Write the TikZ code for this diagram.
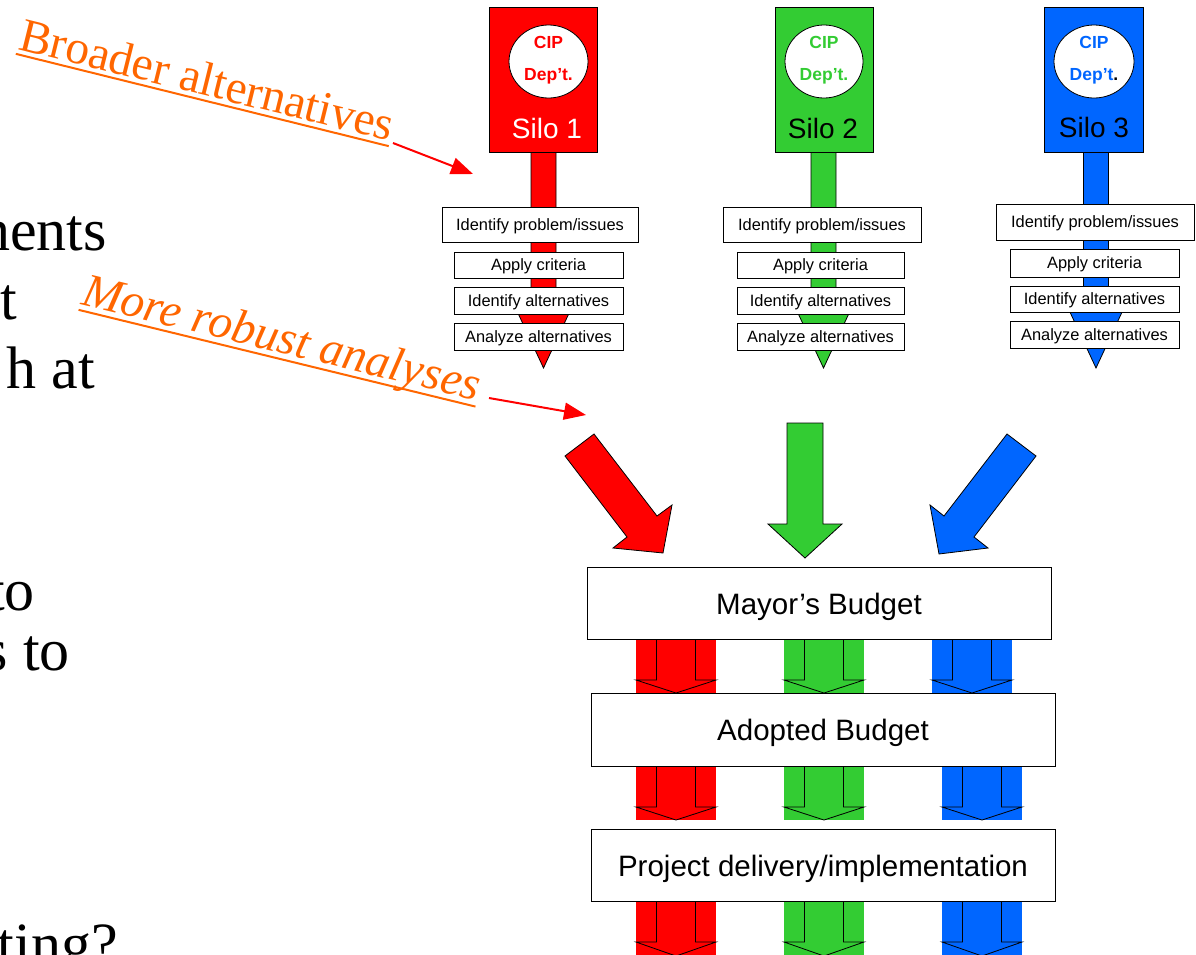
\documentclass[tikz,border=0pt]{standalone}
\usepackage{fontspec}
\setmainfont{Liberation Serif}
\newfontfamily\arial{Liberation Sans}
\usetikzlibrary{arrows.meta,calc,shapes.geometric}
\definecolor{sred}{HTML}{FF0000}
\definecolor{sgreen}{HTML}{33CC33}
\definecolor{sblue}{HTML}{0066FF}
\definecolor{anno}{HTML}{FF6600}
\newcommand{\sArr}[2]{%
  \draw[fill=#1, line width=0.8pt] (#2-12.5,152) -- (#2-12.5,310) -- (#2-27,310) -- (#2,368) -- (#2+27,310) -- (#2+12.5,310) -- (#2+12.5,152);}
\newcommand{\bArr}[5]{%
  \fill[#1] (#2-40,#3) rectangle (#2+40,#5);
  \draw[fill=#1, line width=0.8pt] (#2-19.5,#3) -- (#2-19.5,#4) -- (#2-40,#4) -- (#2,#5) -- (#2+40,#4) -- (#2+19.5,#4) -- (#2+19.5,#3);}
\begin{document}
\begin{tikzpicture}[x=1pt,y=-1pt,
  silobox/.style={draw=black, line width=0.8pt, inner sep=0pt},
  cipcircle/.style={ellipse, draw=black, fill=white, line width=0.8pt, inner sep=0pt},
  ciptext/.style={anchor=base, inner sep=0pt, font=\arial\bfseries\fontsize{17.5}{19}\selectfont},
  silotext/.style={anchor=base, inner sep=0pt, font=\arial\fontsize{28}{30}\selectfont},
  stepbox/.style={draw=black, fill=white, line width=0.8pt, inner sep=0pt, text height=13pt, text depth=2pt, font=\arial\fontsize{16.4}{18}\selectfont},
  bigbox/.style={draw=black, fill=white, line width=0.8pt, inner sep=0pt, minimum width=464pt, minimum height=72pt, text height=24pt, text depth=2pt, font=\arial\fontsize{29.5}{32}\selectfont},
  blockarrow/.style={draw=black, line width=0.8pt},
  annotext/.style={anchor=base west, inner sep=0pt, text=anno, font=\fontsize{47.5}{48}\selectfont},
  annoline/.style={draw=anno, line width=2pt},
  pointer/.style={draw=sred, line width=2pt, -{Triangle[length=22pt,width=17pt]}, sred},
  slidetext/.style={anchor=base east, inner sep=0pt, font=\fontsize{60}{60}\selectfont}
]
\useasboundingbox (0,0) rectangle (1196,954);
\clip (0,0) rectangle (1196,954);

% left slide text (cut off)
\node[slidetext] (l1) at (107,250) {nents};
\node[slidetext] (l2) at (17,319) {t};
\node[slidetext] (l3) at (95,388) {h at};
\node[slidetext] (l4) at (35,610) {to};
\node[slidetext] (l5) at (70,670) {s to};
\node[slidetext] (l6) at (118,964) {ting?};

% silo arrows (behind)
\sArr{sred}{543.5}
\sArr{sgreen}{823.5}
\sArr{sblue}{1096}

% silos
\node[silobox, fill=sred, minimum width=108pt, minimum height=145pt] (s1) at (543,79.5) {};
\node[silobox, fill=sgreen, minimum width=98pt, minimum height=145pt] (s2) at (824,79.5) {};
\node[silobox, fill=sblue, minimum width=99pt, minimum height=145pt] (s3) at (1093.8,79.5) {};
\node[cipcircle, minimum width=79pt, minimum height=73pt] (c1) at (548.5,61.5) {};
\node[cipcircle, minimum width=78pt, minimum height=73pt] (c2) at (824,61.5) {};
\node[cipcircle, minimum width=80pt, minimum height=73pt] (c3) at (1094,61.5) {};
\node[ciptext, text=sred] (c1a) at (548.5,48) {CIP};
\node[ciptext, text=sred] (c1b) at (548.5,80) {Dep’t.};
\node[ciptext, text=sgreen] (c2a) at (824,48) {CIP};
\node[ciptext, text=sgreen] (c2b) at (824,80) {Dep’t.};
\node[ciptext, text=sblue] (c3a) at (1094,48) {CIP};
\node[ciptext, text=sblue] (c3b) at (1094,80) {Dep’t\textcolor{black}{.}};
\node[silotext, text=white] (t1) at (547,138) {Silo 1};
\node[silotext] (t2) at (823,138) {Silo 2};
\node[silotext] (t3) at (1094,137) {Silo 3};

% step boxes
\node[stepbox, minimum width=196pt, minimum height=35pt] (p1) at (540,224.5) {Identify problem/issues};
\node[stepbox, minimum width=169pt, minimum height=26pt] (a1) at (538.5,265) {Apply criteria};
\node[stepbox, minimum width=169pt, minimum height=27pt] (i1) at (538.5,300.5) {Identify alternatives};
\node[stepbox, minimum width=169pt, minimum height=27pt] (z1) at (538.5,336.5) {Analyze alternatives};

\node[stepbox, minimum width=198pt, minimum height=35pt] (p2) at (822,224.5) {Identify problem/issues};
\node[stepbox, minimum width=167pt, minimum height=26pt] (a2) at (820.5,265) {Apply criteria};
\node[stepbox, minimum width=167pt, minimum height=27pt] (i2) at (820.5,300.5) {Identify alternatives};
\node[stepbox, minimum width=167pt, minimum height=27pt] (z2) at (820.5,336.5) {Analyze alternatives};

\node[stepbox, minimum width=198pt, minimum height=36pt] (p3) at (1095,222) {Identify problem/issues};
\node[stepbox, minimum width=169pt, minimum height=28pt] (a3) at (1094.5,263) {Apply criteria};
\node[stepbox, minimum width=169pt, minimum height=26pt] (i3) at (1094.5,299) {Identify alternatives};
\node[stepbox, minimum width=169pt, minimum height=27pt] (z3) at (1094.5,334.5) {Analyze alternatives};

% converging arrows
\draw[blockarrow, fill=sred] (565,456) -- (594,434) -- (657,516) -- (672,505) -- (663,553) -- (613,548) -- (627,537) -- cycle;
\draw[blockarrow, fill=sgreen] (787,423) -- (823,423) -- (823,524) -- (842,524) -- (805,558) -- (768,524) -- (787,524) -- cycle;
\draw[blockarrow, fill=sblue] (1036,456) -- (1007,434) -- (944,516) -- (930,505) -- (939,554) -- (988,548) -- (974,537) -- cycle;

% lower block arrows
\bArr{sred}{676}{639}{680}{693}
\bArr{sgreen}{824}{639}{680}{693}
\bArr{sblue}{972}{639}{680}{693}
\bArr{sred}{676}{766}{807}{820}
\bArr{sgreen}{824}{766}{807}{820}
\bArr{sblue}{982}{766}{807}{820}
\bArr{sred}{676}{901}{942}{956}
\bArr{sgreen}{824}{901}{942}{956}
\bArr{sblue}{982}{901}{942}{956}

% budget boxes
\node[bigbox] (mb) at (819,603) {Mayor’s Budget};
\node[bigbox, minimum height=73pt] (ab) at (823,729.5) {Adopted Budget};
\node[bigbox] (pd) at (823,865) {Project delivery/implementation};

% annotations
\node[annotext, rotate=-13.9] (ba) at (17,49) {Broader alternatives};
\draw[annoline] ($(ba.base west)!5pt!-90:(ba.base east)$) -- ($(ba.base east)!5pt!90:(ba.base west)$);
\node[annotext, rotate=-13.7, font=\itshape\fontsize{47.5}{48}\selectfont] (mr) at (80,304) {More robust analyses};
\draw[annoline] ($(mr.base west)!6pt!-90:(mr.base east)$) -- ($(mr.base east)!6pt!90:(mr.base west)$);
\coordinate (ba0) at (393,143);
\coordinate (ba1) at (473,174);
\coordinate (mr0) at (489,398);
\coordinate (mr1) at (586,415);
\draw[pointer] (ba0) -- (ba1);
\draw[pointer] (mr0) -- (mr1);
\end{tikzpicture}
\end{document}
